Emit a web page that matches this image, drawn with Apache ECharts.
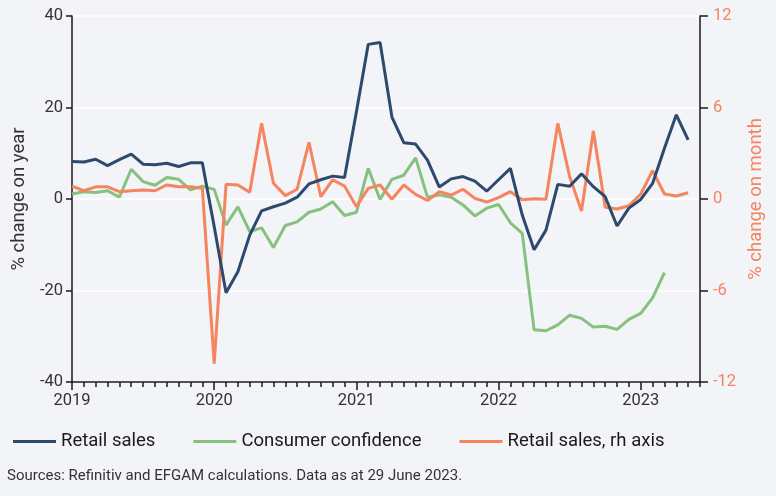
<!DOCTYPE html>
<html>
<head>
<meta charset="utf-8">
<script src="https://cdn.jsdelivr.net/npm/echarts@6/dist/echarts.min.js"></script>
<style>
  html, body { margin: 0; padding: 0; background: #f2f4f7; }
  #chart { width: 776px; height: 496px; }
</style>
</head>
<body>
<div id="chart"></div>
<script>
// monthly points, Jan 2019 .. Jun 2023
const months = []
for (let y = 2019; y <= 2023; y++) {
  for (let m = 1; m <= 12; m++) {
    if (y === 2023 && m > 6) break
    months.push(y + '-' + String(m).padStart(2, '0'))
  }
}

// % change on year (left axis)
const retailSales = [
  8.2, 8.1, 8.7, 7.3, 8.6, 9.8, 7.6, 7.5, 7.8, 7.1, 7.9, 7.9,
  -6.0, -20.5, -15.9, -7.9, -2.6, -1.7, -0.9, 0.4, 3.3, 4.2, 5.0, 4.7,
  19.0, 33.8, 34.2, 17.9, 12.3, 12.0, 8.5, 2.6, 4.4, 4.9, 3.9, 1.7,
  4.2, 6.7, -3.5, -11.1, -6.8, 3.2, 2.8, 5.5, 2.7, 0.5, -5.9, -2.0,
  -0.1, 3.4, 11.1, 18.4, 12.9
]
const consumerConfidence = [
  1.1, 1.6, 1.4, 1.8, 0.4, 6.5, 3.8, 3.0, 4.7, 4.3, 2.0, 2.8,
  2.1, -5.7, -1.7, -7.1, -6.3, -10.6, -5.8, -5.0, -2.9, -2.2, -0.6, -3.6,
  -2.9, 6.7, -0.1, 4.3, 5.2, 9.0, 0.4, 0.9, 0.4, -1.3, -3.7, -2.0,
  -1.2, -5.2, -7.5, -28.6, -28.8, -27.5, -25.4, -26.1, -28.0, -27.8, -28.5, -26.3,
  -25.0, -21.6, -16.1
]
// % change on month (right axis)
const retailSalesMoM = [
  0.85, 0.54, 0.8, 0.8, 0.48, 0.54, 0.59, 0.54, 0.92, 0.8, 0.8, 0.7,
  -10.8, 0.96, 0.92, 0.44, 4.96, 1.03, 0.22, 0.64, 3.72, 0.15, 1.25, 0.85,
  -0.5, 0.7, 0.92, -0.02, 0.92, 0.3, -0.1, 0.48, 0.26, 0.64, 0.04, -0.2,
  0.09, 0.48, -0.05, 0.02, -0.02, 4.96, 1.46, -0.79, 4.46, -0.54, -0.66, -0.44,
  0.33, 1.86, 0.33, 0.2, 0.41
]

const navy = '#2d4a6e'
const green = '#86c17e'
const orange = '#f5845f'
const font = 'Roboto'

const chart = echarts.init(document.getElementById('chart'))
const option = {
  animation: false,
  backgroundColor: '#f2f4f7',
  textStyle: { fontFamily: font },
  grid: { left: 72, right: 76, top: 16, bottom: 114, containLabel: false },
  legend: {
    left: 8,
    top: 427,
    itemWidth: 43,
    itemHeight: 3,
    itemGap: 38,
    icon: 'rect',
    textStyle: { fontSize: 18.5, color: '#1a1a1a', fontFamily: font },
    data: ['Retail sales', 'Consumer confidence', 'Retail sales, rh axis']
  },
  xAxis: [
    {
      type: 'category',
      data: months,
      boundaryGap: false,
      axisLine: { onZero: false, lineStyle: { color: '#1a1a1a', width: 1.5 } },
      axisTick: { interval: 0, length: 5, lineStyle: { color: '#1a1a1a', width: 1.5 } },
      axisLabel: {
        interval: (i) => i % 12 === 0,
        formatter: (v) => v.slice(0, 4),
        fontSize: 16.5,
        color: '#333',
        margin: 10
      },
      splitLine: { show: false }
    },
    {
      type: 'category',
      data: months,
      boundaryGap: false,
      position: 'bottom',
      axisLine: { show: false, onZero: false },
      axisTick: { interval: (i) => i % 12 === 0, length: 8, lineStyle: { color: '#1a1a1a', width: 1.5 } },
      axisLabel: { show: false },
      splitLine: { show: false }
    }
  ],
  yAxis: [
    {
      type: 'value',
      min: -40,
      max: 40,
      interval: 20,
      name: '% change on year',
      nameLocation: 'middle',
      nameRotate: 90,
      nameGap: 38,
      nameTextStyle: { fontSize: 18.5, color: '#333' },
      axisLine: { show: true, lineStyle: { color: '#1a1a1a', width: 1.5 } },
      axisTick: { show: true, length: 6, lineStyle: { color: '#1a1a1a', width: 1.5 } },
      axisLabel: { fontSize: 16.5, color: '#333', margin: 9 },
      splitLine: { show: true, lineStyle: { color: '#ffffff', width: 1.5 } }
    },
    {
      type: 'value',
      min: -12,
      max: 12,
      interval: 6,
      position: 'right',
      name: '% change on month',
      nameLocation: 'middle',
      nameRotate: 90,
      nameGap: 40,
      nameTextStyle: { fontSize: 18.5, color: orange },
      axisLine: { show: true, lineStyle: { color: '#1a1a1a', width: 1.5 } },
      axisTick: { show: true, length: 8, lineStyle: { color: '#1a1a1a', width: 1.5 } },
      axisLabel: { fontSize: 16.5, color: orange, margin: 13 },
      splitLine: { show: false }
    }
  ],
  series: [
    {
      name: 'Retail sales',
      type: 'line',
      yAxisIndex: 0,
      data: retailSales,
      symbol: 'none',
      color: navy,
      lineStyle: { width: 3, color: navy },
      z: 4
    },
    {
      name: 'Consumer confidence',
      type: 'line',
      yAxisIndex: 0,
      data: consumerConfidence,
      symbol: 'none',
      color: green,
      lineStyle: { width: 3, color: green },
      z: 2
    },
    {
      name: 'Retail sales, rh axis',
      type: 'line',
      yAxisIndex: 1,
      data: retailSalesMoM,
      symbol: 'none',
      color: orange,
      lineStyle: { width: 3, color: orange },
      z: 3
    }
  ],
  graphic: [
    {
      type: 'text',
      left: 7,
      top: 469,
      style: {
        text: 'Sources: Refinitiv and EFGAM calculations. Data as at 29 June 2023.',
        fontSize: 15,
        fontFamily: font,
        fill: '#333'
      }
    }
  ]
}
chart.setOption(option)
window.addEventListener('resize', () => chart.resize())
</script>
</body>
</html>
